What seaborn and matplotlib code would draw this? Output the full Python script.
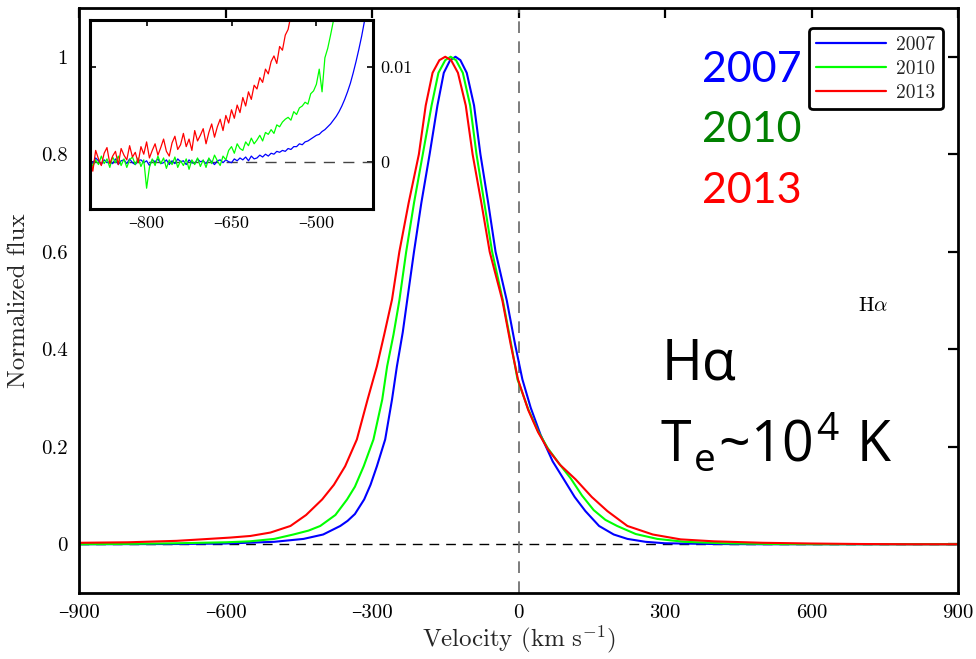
import numpy as np
import pandas as pd
import matplotlib
matplotlib.use("Agg")
import matplotlib.pyplot as plt
import seaborn as sns
from matplotlib.lines import Line2D

# ---------------- data ----------------
years = ["2007", "2010", "2013"]
line_colors = ["#0000ff", "#00ff00", "#ff0000"]
label_colors = ["#0000ff", "#008000", "#ff0000"]

v_2007 = [-900, -700, -600, -500, -440, -400, -365, -350, -335, -316, -303, -290, -273, -259,
          -249, -237, -228, -214, -199, -182, -166, -153, -140, -129, -119, -106, -91, -78,
          -62, -47, -24, -7, 8, 25, 45, 70, 96, 115, 137, 165, 195, 223, 260, 300, 400,
          500, 600, 700, 800, 900]
f_2007 = [0.000, 0.0005, 0.0015, 0.005, 0.011, 0.020, 0.0375, 0.048, 0.062, 0.092, 0.122, 0.160,
          0.215, 0.297, 0.365, 0.435, 0.500, 0.600, 0.700, 0.800, 0.900, 0.967, 0.993, 1.000,
          0.993, 0.967, 0.900, 0.800, 0.700, 0.600, 0.500, 0.410, 0.338, 0.280, 0.225, 0.170,
          0.128, 0.097, 0.068, 0.0375, 0.020, 0.011, 0.005, 0.002, 0.0005, 0.000, 0.000,
          0.000, 0.000, 0.000]

v_2010 = [-900, -800, -700, -600, -550, -500, -461, -430, -406, -375, -351, -335, -317, -297,
          -279, -269, -256, -244, -230, -214, -196, -178, -164, -150, -139, -128, -114, -99,
          -86, -70, -54, -32, -15, -2, 20, 40, 60, 85, 107, 130, 154, 178, 202, 240, 284, 340,
          420, 520, 620, 700, 800, 900]
f_2010 = [0.000, 0.0008, 0.002, 0.004, 0.006, 0.011, 0.020, 0.028, 0.0375, 0.060, 0.092, 0.118,
          0.160, 0.215, 0.297, 0.365, 0.430, 0.500, 0.600, 0.700, 0.800, 0.900, 0.967, 0.993,
          1.000, 0.993, 0.967, 0.900, 0.800, 0.700, 0.600, 0.500, 0.410, 0.338, 0.277, 0.232,
          0.197, 0.163, 0.135, 0.100, 0.070, 0.050, 0.0375, 0.021, 0.011, 0.005, 0.002, 0.0005,
          0.000, 0.000, 0.000, 0.000]

v_2013 = [-900, -800, -700, -650, -590, -549, -508, -467, -435, -402, -378, -355, -331, -309,
          -290, -275, -259, -244, -225, -204, -190, -176, -162, -150, -138, -124, -108, -94,
          -76, -59, -33, -16, -1, 20, 40, 60, 85, 117, 150, 182, 223, 275, 332, 400, 500, 600,
          700, 800, 900]
f_2013 = [0.003, 0.004, 0.007, 0.010, 0.0137, 0.017, 0.024, 0.0375, 0.060, 0.092, 0.122, 0.160,
          0.215, 0.297, 0.365, 0.430, 0.502, 0.600, 0.700, 0.800, 0.900, 0.967, 0.993, 1.000,
          0.993, 0.967, 0.900, 0.800, 0.700, 0.600, 0.500, 0.410, 0.338, 0.275, 0.230, 0.195,
          0.163, 0.133, 0.097, 0.068, 0.0375, 0.020, 0.010, 0.006, 0.003, 0.0015, 0.0005,
          0.000, 0.000]

# inset: blue-wing detail, sampled every 5 km/s from -900 to -400
inset_v = list(range(-900, -399, 5))
inset_2007 = [0.0003, -0.0002, 0.0004, 0.0001, -0.0003, 0.0002, -0.0001, 0.0000, -0.0002, 0.0003,
              -0.0003, 0.0001, 0.0002, -0.0002, 0.0003, -0.0001, -0.0003, 0.0001, 0.0002, -0.0001,
              0.0001, -0.0004, 0.0002, 0.0000, 0.0003, -0.0002, -0.0001, 0.0002, -0.0003, 0.0001,
              -0.0002, 0.0003, 0.0000, 0.0001, -0.0003, 0.0002, -0.0001, -0.0002, 0.0003, 0.0000,
              0.0001, -0.0002, 0.0003, 0.0000, -0.0003, 0.0001, 0.0002, -0.0001, 0.0002, 0.0000,
              -0.0001, 0.0003, 0.0001, 0.0004, 0.0002, 0.0005, 0.0001, 0.0006, 0.0003, 0.0004,
              0.0007, 0.0005, 0.0008, 0.0006, 0.0009, 0.0008, 0.0011, 0.0010, 0.0012, 0.0011,
              0.0014, 0.0013, 0.0016, 0.0016, 0.0019, 0.0018, 0.0021, 0.0022, 0.0024, 0.0026,
              0.0028, 0.0029, 0.0032, 0.0034, 0.0037, 0.0040, 0.0044, 0.0048, 0.0053, 0.0059,
              0.0066, 0.0074, 0.0083, 0.0094, 0.0106, 0.0119, 0.0133, 0.0149, 0.0165, 0.0183,
              0.0200]
inset_2010 = [0.0004, -0.0005, 0.0002, -0.0003, 0.0006, -0.0002, 0.0003, -0.0006, 0.0005, -0.0001,
              0.0006, -0.0004, 0.0003, -0.0006, 0.0002, 0.0005, -0.0003, 0.0004, -0.0005, 0.0002,
              -0.0028, -0.0006, 0.0003, -0.0004, 0.0006, -0.0002, 0.0004, -0.0007, 0.0002, -0.0003,
              0.0005, -0.0006, 0.0001, -0.0004, 0.0003, -0.0008, 0.0002, -0.0003, 0.0004, -0.0005,
              0.0002, -0.0006, 0.0004, -0.0002, 0.0007, 0.0001, -0.0004, 0.0006, 0.0002, 0.0012,
              0.0016, 0.0009, 0.0019, 0.0014, 0.0012, 0.0021, 0.0017, 0.0025, 0.0019, 0.0023,
              0.0028, 0.0022, 0.0031, 0.0029, 0.0034, 0.0030, 0.0039, 0.0037, 0.0042, 0.0045,
              0.0047, 0.0044, 0.0053, 0.0050, 0.0057, 0.0059, 0.0063, 0.0061, 0.0072, 0.0075,
              0.0082, 0.0098, 0.0074, 0.0110, 0.0120, 0.0134, 0.0149, 0.0163, 0.0180, 0.0195,
              0.0210, 0.0230, 0.0250, 0.0270, 0.0290, 0.0310, 0.0330, 0.0350, 0.0370, 0.0390,
              0.0410]
inset_2013 = [0.0004, -0.0010, 0.0012, 0.0003, -0.0004, 0.0009, 0.0015, -0.0002, 0.0006, 0.0011,
              -0.0003, 0.0014, 0.0007, 0.0002, 0.0017, 0.0005, 0.0010, -0.0001, 0.0016, 0.0008,
              0.0021, 0.0004, 0.0012, 0.0019, 0.0007, 0.0015, 0.0024, 0.0011, 0.0006, 0.0020,
              0.0027, 0.0013, 0.0018, 0.0030, 0.0016, 0.0024, 0.0012, 0.0033, 0.0022, 0.0028,
              0.0035, 0.0019, 0.0031, 0.0040, 0.0026, 0.0037, 0.0045, 0.0033, 0.0049, 0.0041,
              0.0055, 0.0046, 0.0060, 0.0052, 0.0068, 0.0059, 0.0074, 0.0066, 0.0081, 0.0077,
              0.0089, 0.0084, 0.0098, 0.0093, 0.0106, 0.0112, 0.0104, 0.0122, 0.0118, 0.0134,
              0.0140, 0.0155, 0.0150, 0.0168, 0.0180, 0.0190, 0.0200, 0.0210, 0.0220, 0.0230,
              0.0240, 0.0250, 0.0260, 0.0270, 0.0280, 0.0290, 0.0300, 0.0310, 0.0320, 0.0330,
              0.0340, 0.0350, 0.0360, 0.0370, 0.0380, 0.0390, 0.0400, 0.0410, 0.0420, 0.0430,
              0.0440]

xticks_main = [-900, -600, -300, 0, 300, 600, 900]
yticks_main = [0, 0.2, 0.4, 0.6, 0.8, 1]
ytick_labels_main = ["0", "0.2", "0.4", "0.6", "0.8", "1"]
xticks_inset = [-800, -650, -500]
yticks_inset = [0, 0.01]
ytick_labels_inset = ["0", "0.01"]


def tick_text(t):
    return str(t).replace("-", "\u2013")


# ---------------- build tables ----------------
main_df = pd.concat([
    pd.DataFrame({"v": v_2007, "f": f_2007, "year": "2007"}),
    pd.DataFrame({"v": v_2010, "f": f_2010, "year": "2010"}),
    pd.DataFrame({"v": v_2013, "f": f_2013, "year": "2013"}),
], ignore_index=True)
inset_df = pd.concat([
    pd.DataFrame({"v": inset_v, "f": inset_2007, "year": "2007"}),
    pd.DataFrame({"v": inset_v, "f": inset_2010, "year": "2010"}),
    pd.DataFrame({"v": inset_v, "f": inset_2013, "year": "2013"}),
], ignore_index=True)
palette = dict(zip(years, line_colors))

# ---------------- style ----------------
sns.set_theme(style="white")
plt.rcParams.update({
    "font.family": ["cmr10", "DejaVu Serif"],
    "mathtext.fontset": "cm",
    "axes.unicode_minus": False,
    "axes.formatter.use_mathtext": True,
    "axes.edgecolor": "black",
    "axes.linewidth": 2.0,
    "xtick.direction": "in",
    "ytick.direction": "in",
    "xtick.color": "black",
    "ytick.color": "black",
})

fig = plt.figure(figsize=(9.76, 6.59), dpi=100)
ax = fig.add_axes([79 / 976, 1 - 593 / 659, 879 / 976, 585 / 659])

sns.lineplot(data=main_df, x="v", y="f", hue="year", palette=palette, sort=False,
             estimator=None, linewidth=1.5, ax=ax, legend=False)

ax.axhline(0, color="black", lw=1.0, ls=(0, (7, 5)), zorder=1)
ax.axvline(0, color="#666666", lw=1.2, ls=(0, (7, 5)), zorder=1)

ax.set_xlim(-900, 900)
ax.set_ylim(-0.1, 1.1)
ax.set_xticks(xticks_main)
ax.set_xticklabels([tick_text(t) for t in xticks_main])
ax.set_yticks(yticks_main)
ax.set_yticklabels(ytick_labels_main)
ax.tick_params(axis="both", which="both", direction="in", length=7, width=1.6,
               top=True, right=True, labelsize=15, pad=8)
ax.set_xlabel(r"Velocity $(\mathrm{km\ s^{-1}})$", fontsize=18, labelpad=1)
ax.set_ylabel("Normalized flux", fontsize=18, labelpad=8)
for s in ax.spines.values():
    s.set_visible(True)
    s.set_linewidth(2.0)
    s.set_color("black")

# legend
handles = [Line2D([], [], color=c, lw=1.6) for c in line_colors]
leg = ax.legend(handles, years, loc="upper right", bbox_to_anchor=(0.983, 0.965),
                borderaxespad=0, fontsize=14, handlelength=3.6, handletextpad=0.5,
                labelspacing=0.3, frameon=True, fancybox=True, borderpad=0.4)
leg.get_frame().set_edgecolor("black")
leg.get_frame().set_linewidth(2.0)
leg.get_frame().set_alpha(1)

# annotations
txt_font = ["Lato", "DejaVu Sans"]
for lab, col, ybase in zip(years, label_colors, [82, 142, 203]):
    fig.text(702 / 976, 1 - ybase / 659, lab, color=col, fontsize=31,
             family=txt_font, ha="left", va="baseline")
fig.text(858 / 976, 1 - 311 / 659, r"H$\alpha$", fontsize=15, ha="left", va="baseline",
         color="black")
fig.text(662 / 976, 1 - 380 / 659, "Hα", fontsize=40, family=["Open Sans", "DejaVu Sans"],
         ha="left", va="baseline", color="black")
fig.text(660 / 976, 1 - 462 / 659, r"T$_\mathregular{e}$~10$^\mathregular{4}$ K", fontsize=40,
         family=["Open Sans", "DejaVu Sans"], ha="left", va="baseline", color="black")

# inset
axi = fig.add_axes([90 / 976, 1 - 209 / 659, 283 / 976, 189 / 659])
axi.set_facecolor("white")
sns.lineplot(data=inset_df, x="v", y="f", hue="year", palette=palette, sort=False,
             estimator=None, linewidth=0.9, ax=axi, legend=False)
axi.axhline(0, color="#444444", lw=1.0, ls=(0, (8, 6)), zorder=1)
axi.set_xlim(-900, -400)
axi.set_ylim(-0.005, 0.015)
axi.set_xticks(xticks_inset)
axi.set_xticklabels([tick_text(t) for t in xticks_inset])
axi.set_yticks(yticks_inset)
axi.set_yticklabels(ytick_labels_inset)
axi.yaxis.tick_right()
axi.tick_params(axis="both", which="both", direction="in", length=4, width=1.2,
                top=True, left=True, right=True, labelsize=13, pad=5)
axi.tick_params(axis="y", labelleft=False, labelright=True)
axi.set_xlabel("")
axi.set_ylabel("")
for s in axi.spines.values():
    s.set_visible(True)
    s.set_linewidth(2.2)
    s.set_color("black")

fig.savefig("out.png", dpi=100)
